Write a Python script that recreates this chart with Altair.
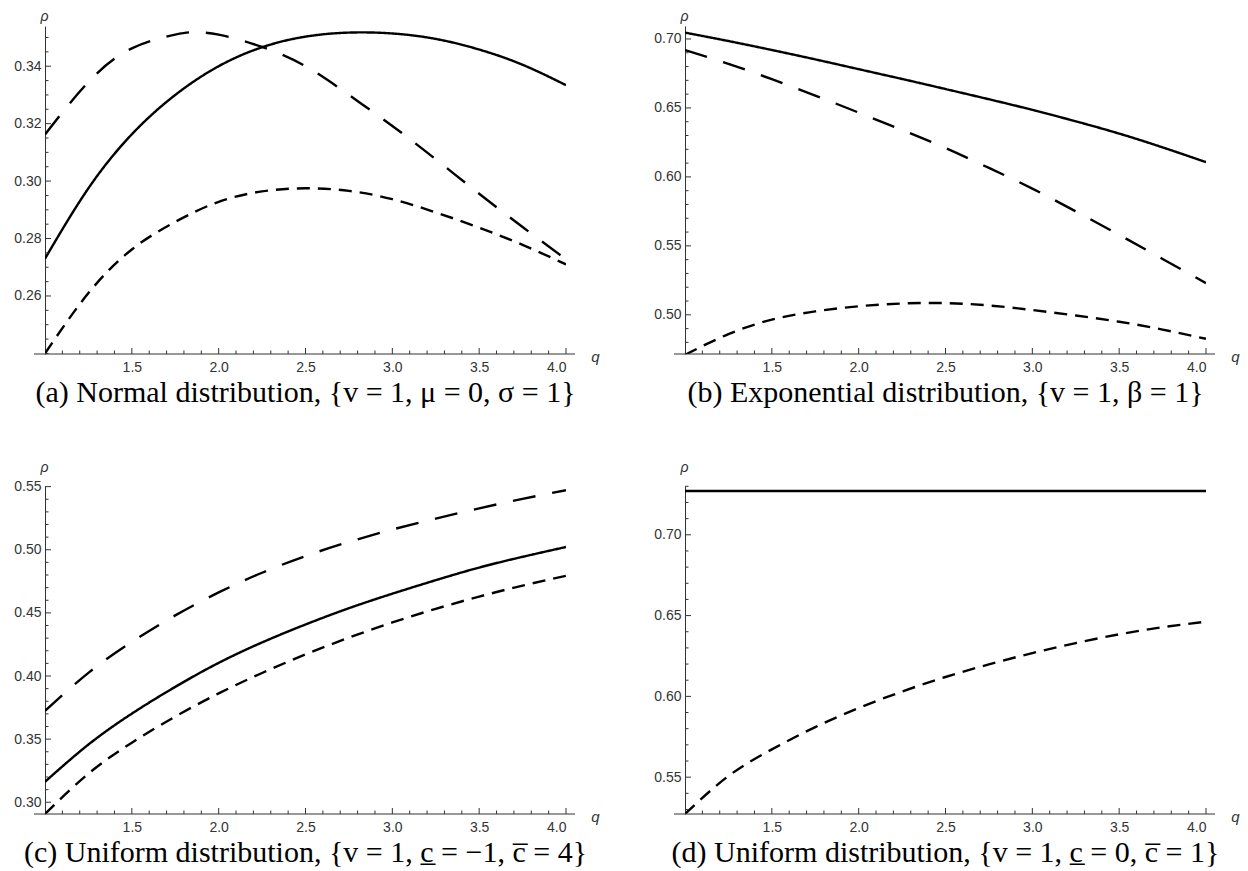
import altair as alt
import pandas as pd
import numpy as np

# ---------------- data ----------------
q = [1.0, 1.25, 1.5, 1.75, 2.0, 2.25, 2.5, 2.75, 3.0, 3.25, 3.5, 3.75, 4.0]

# (a) Normal distribution
a_solid = [0.2730, 0.2975, 0.3163, 0.3300, 0.3400, 0.3466, 0.3503, 0.3517, 0.3514, 0.3495, 0.3458, 0.3405, 0.3334]
a_long_q = [1.0, 1.25, 1.5, 1.75, 1.85, 2.0, 2.25, 2.5, 2.75, 3.0, 3.25, 3.5, 3.75, 4.0]
a_long = [0.3162, 0.3345, 0.3462, 0.3510, 0.3518, 0.3510, 0.3467, 0.3400, 0.3300, 0.3192, 0.3076, 0.2956, 0.2840, 0.2728]
a_short = [0.2400, 0.2610, 0.2762, 0.2858, 0.2928, 0.2964, 0.2975, 0.2966, 0.2937, 0.2891, 0.2838, 0.2778, 0.2710]

# (b) Exponential distribution
b_solid = [0.7046, 0.6985, 0.6920, 0.6852, 0.6781, 0.6710, 0.6637, 0.6563, 0.6486, 0.6403, 0.6314, 0.6214, 0.6107]
b_long = [0.6920, 0.6820, 0.6708, 0.6590, 0.6466, 0.6340, 0.6209, 0.6065, 0.5915, 0.5750, 0.5580, 0.5405, 0.5230]
b_short = [0.4710, 0.4860, 0.4965, 0.5025, 0.5062, 0.5082, 0.5085, 0.5068, 0.5035, 0.4995, 0.4950, 0.4893, 0.4826]

# (c) Uniform distribution, c = -1 .. 4
c_solid = [0.3162, 0.3457, 0.3702, 0.3914, 0.4104, 0.4266, 0.4408, 0.4537, 0.4652, 0.4759, 0.4859, 0.4944, 0.5022]
c_long = [0.3724, 0.4025, 0.4270, 0.4480, 0.4662, 0.4818, 0.4950, 0.5062, 0.5160, 0.5247, 0.5328, 0.5403, 0.5472]
c_short = [0.2907, 0.3227, 0.3472, 0.3679, 0.3862, 0.4024, 0.4171, 0.4304, 0.4424, 0.4532, 0.4629, 0.4716, 0.4794]

# (d) Uniform distribution, c = 0 .. 1
d_solid = [0.7271, 0.7271, 0.7271, 0.7271, 0.7271, 0.7271, 0.7271, 0.7271, 0.7271, 0.7271, 0.7271, 0.7271, 0.7271]
d_short = [0.5272, 0.5507, 0.5672, 0.5810, 0.5928, 0.6030, 0.6120, 0.6198, 0.6268, 0.6330, 0.6384, 0.6428, 0.6462]

# axis ranges and tick labels
a_ydom = [0.2398, 0.3540]
b_ydom = [0.4716, 0.7094]
c_ydom = [0.2907, 0.5505]
d_ydom = [0.5272, 0.7302]
a_major = [0.26, 0.28, 0.30, 0.32, 0.34]
b_major = [0.50, 0.55, 0.60, 0.65, 0.70]
c_major = [0.30, 0.35, 0.40, 0.45, 0.50, 0.55]
d_major = [0.55, 0.60, 0.65, 0.70]
x_major = [1.5, 2.0, 2.5, 3.0, 3.5, 4.0]

captions = [
    "(a) Normal distribution, {v = 1, \u03bc = 0, \u03c3 = 1}",
    "(b) Exponential distribution, {v = 1, \u03b2 = 1}",
    "(c) Uniform distribution, {v = 1, c\u0332 = \u22121, c\u0305 = 4}",
    "(d) Uniform distribution, {v = 1, c\u0332 = 0, c\u0305 = 1}",
]

W, H = 521, 328
AX = "#333333"
SANS = "Liberation Sans"
SERIF = "Liberation Serif"


def minor_ticks(lo, hi, step, majors):
    vals = np.round(np.arange(lo, hi + step / 2, step), 4)
    return [float(v) for v in vals if all(abs(v - m) > 1e-6 for m in majors)]


def panel(series, ydom, ymajor, yminor_step, caption, rho_dy):
    rows = []
    for name, qs, vs in series:
        for qq, vv in zip(qs, vs):
            rows.append({"q": qq, "rho": vv, "s": name})
    df = pd.DataFrame(rows)
    xs = alt.Scale(domain=[1, 4], nice=False, zero=False)
    ys = alt.Scale(domain=ydom, nice=False, zero=False)

    xax = alt.Axis(
        values=x_major, format=".1f", title="q", grid=False, domain=False,
        ticks=False, tickSize=0, labelPadding=6, labelFont=SANS,
        labelFontSize=14, labelColor=AX, titleFont=SANS, titleFontSize=15,
        titleFontStyle="italic", titleFontWeight="normal", titleColor=AX,
        titleX=W + 29, titleY=2, titleAlign="center", titleBaseline="middle",
        titleAngle=0)
    yax = alt.Axis(
        values=ymajor, format=".2f", title="\u03c1", grid=False, domain=True,
        domainColor=AX, domainWidth=1, ticks=False, tickSize=0,
        labelPadding=4, labelFont=SANS, labelFontSize=14, labelColor=AX,
        titleFont=SANS, titleFontSize=14, titleFontStyle="italic",
        titleFontWeight="normal", titleColor=AX, titleAngle=0, titleX=-1,
        titleY=rho_dy, titleAlign="center", titleBaseline="middle")

    X = lambda: alt.X("q:Q", scale=xs, axis=xax)
    Y = lambda: alt.Y("rho:Q", scale=ys, axis=yax)

    lines = alt.Chart(df).mark_line(
        interpolate="natural", strokeWidth=2.4, color="black", clip=True
    ).encode(
        x=X(), y=Y(),
        strokeDash=alt.StrokeDash("s:N", scale=alt.Scale(
            domain=["solid", "long", "short"], range=[[1, 0], [23, 17], [13, 8]]),
            legend=None),
        detail="s:N",
    )

    ymin_t = minor_ticks(round(ydom[0], 2) - 0.01, ydom[1], yminor_step, ymajor)
    ymin_t = [v for v in ymin_t if ydom[0] <= v <= ydom[1] + 1e-9]
    xmin_t = minor_ticks(1.1, 3.9, 0.1, x_major)

    ytm = alt.Chart(pd.DataFrame({"rho": ymajor})).mark_rule(color=AX, strokeWidth=1).encode(
        y=Y(), x=alt.value(0), x2=alt.value(6))
    ytn = alt.Chart(pd.DataFrame({"rho": ymin_t})).mark_rule(color=AX, strokeWidth=1).encode(
        y=Y(), x=alt.value(0), x2=alt.value(3.5))
    xtm = alt.Chart(pd.DataFrame({"q": x_major})).mark_rule(color=AX, strokeWidth=1).encode(
        x=X(), y=alt.value(H), y2=alt.value(H - 6))
    xtn = alt.Chart(pd.DataFrame({"q": xmin_t})).mark_rule(color=AX, strokeWidth=1).encode(
        x=X(), y=alt.value(H), y2=alt.value(H - 3.5))
    xaxis = alt.Chart(pd.DataFrame({"k": [0]})).mark_rule(color=AX, strokeWidth=1).encode(
        x=alt.value(-11), x2=alt.value(W + 9), y=alt.value(H))

    return alt.layer(lines, xtm, xtn, ytm, ytn, xaxis).properties(
        width=W, height=H,
        title=alt.TitleParams(caption, orient="bottom", anchor="middle", frame="group",
                              font=SERIF, fontSize=30, fontWeight="normal",
                              color="black", offset=4),
    )


pa = panel([("solid", q, a_solid), ("long", a_long_q, a_long), ("short", q, a_short)],
           a_ydom, a_major, 0.005, captions[0], -10)
pb = panel([("solid", q, b_solid), ("long", q, b_long), ("short", q, b_short)],
           b_ydom, b_major, 0.01, captions[1], -10)
pc = panel([("solid", q, c_solid), ("long", q, c_long), ("short", q, c_short)],
           c_ydom, c_major, 0.01, captions[2], -19)
pd_ = panel([("solid", q, d_solid), ("short", q, d_short)],
            d_ydom, d_major, 0.01, captions[3], -19)

chart = alt.vconcat(
    alt.hconcat(pa, pb, spacing=53),
    alt.hconcat(pc, pd_, spacing=53),
    spacing=52,
).configure_view(stroke=None).properties(
    padding={"left": 5, "top": 1, "right": 0, "bottom": 0},
    background="white",
)

chart.save("out.html", embed_options={"renderer": "svg", "actions": False})
